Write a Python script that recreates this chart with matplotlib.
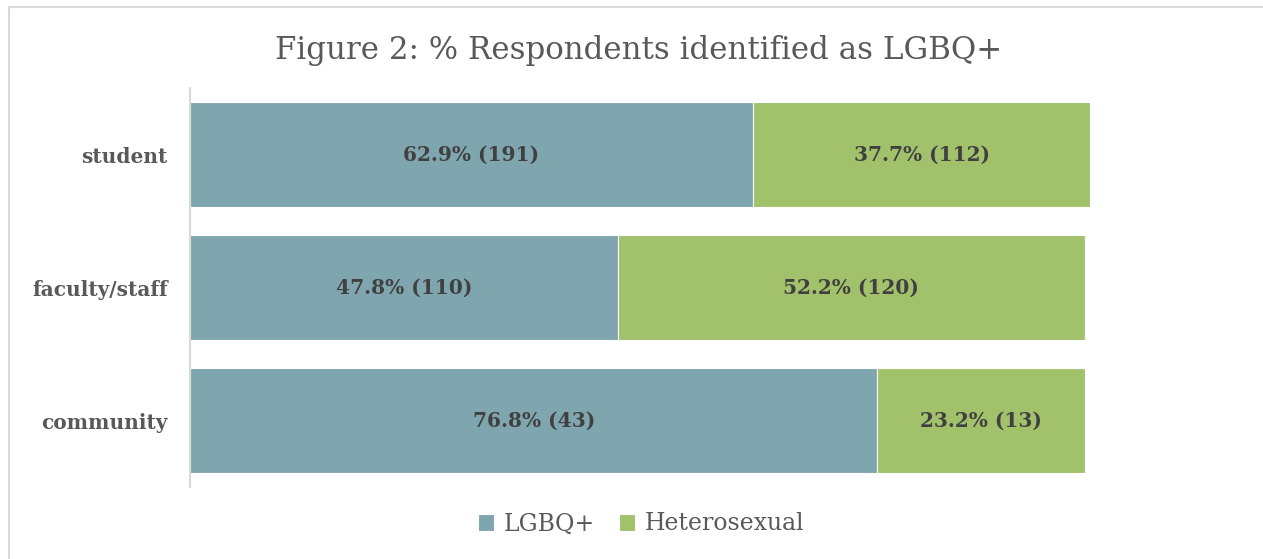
import matplotlib
matplotlib.use("Agg")
import matplotlib.pyplot as plt
from matplotlib.patches import Rectangle

categories = ["student", "faculty/staff", "community"]
lgbq_pct = [62.9, 47.8, 76.8]
lgbq_n = [191, 110, 43]
het_pct = [37.7, 52.2, 23.2]
het_n = [112, 120, 13]
series_names = ["LGBQ+", "Heterosexual"]
title = "Figure 2: % Respondents identified as LGBQ+"

C_LGBQ = "#7FA5AE"
C_HET = "#A1C26B"
FONT = "DejaVu Serif"

W, H = 1263, 559
fig = plt.figure(figsize=(W / 100, H / 100), dpi=100)

# outer chart border
fig.patches.append(Rectangle((9 / W, -0.1), 1.2, (H - 7) / H + 0.1, transform=fig.transFigure,
                             fill=False, edgecolor="#D9D9D9", linewidth=1.5))

ax_left, ax_right = 190, 1085
ax_top, ax_bot = 88, 487
ax = fig.add_axes([ax_left / W, 1 - ax_bot / H, (ax_right - ax_left) / W, (ax_bot - ax_top) / H])
ax.set_xlim(0, 100)
ax.set_ylim(2.5, -0.5)

ypos = list(range(len(categories)))
b1 = ax.barh(ypos, lgbq_pct, height=0.79, color=C_LGBQ, edgecolor="white", linewidth=0.8,
             label=series_names[0], clip_on=False)
b2 = ax.barh(ypos, het_pct, left=lgbq_pct, height=0.79, color=C_HET, edgecolor="white",
             linewidth=0.8, label=series_names[1], clip_on=False)

for i in ypos:
    ax.text(lgbq_pct[i] / 2, i, f"{lgbq_pct[i]}% ({lgbq_n[i]})", ha="center", va="center",
            fontsize=14.5, fontweight="bold", color="#404040", family=FONT)
    ax.text(lgbq_pct[i] + het_pct[i] / 2, i, f"{het_pct[i]}% ({het_n[i]})", ha="center",
            va="center", fontsize=14.5, fontweight="bold", color="#404040", family=FONT)

ax.set_yticks(ypos)
ax.set_yticklabels(categories, fontsize=14.5, fontweight="bold", color="#595959", family=FONT)
for lab in ax.get_yticklabels():
    lab.set_va("center_baseline")
ax.tick_params(axis="y", length=0, pad=16)
ax.set_xticks([])
for s in ["top", "right", "bottom"]:
    ax.spines[s].set_visible(False)
ax.spines["left"].set_color("#D9D9D9")
ax.spines["left"].set_linewidth(1.5)

fig.text(639 / W, 1 - 51 / H, title, ha="center", va="center", fontsize=22.2, color="#595959",
         family=FONT)

leg = fig.legend(handles=[b1, b2], labels=series_names, loc="center", bbox_to_anchor=(641 / W, 1 - 524 / H),
                 ncol=2, frameon=False, handlelength=0.7, handleheight=0.7, handletextpad=0.4,
                 columnspacing=1.0, prop={"family": FONT, "size": 17})
for t in leg.get_texts():
    t.set_color("#595959")

fig.savefig("out.png", dpi=100)
